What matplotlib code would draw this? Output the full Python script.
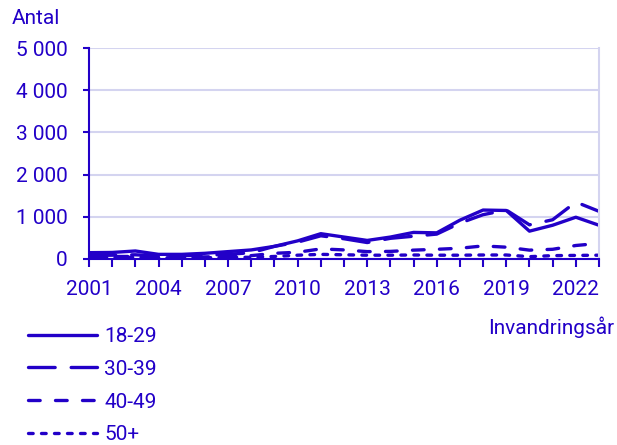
import matplotlib
matplotlib.use("Agg")
import matplotlib.pyplot as plt
import numpy as np

plt.rcParams['font.family'] = ['Roboto', 'DejaVu Sans']

years = list(range(2001, 2024))
age_18_29 = [150, 155, 190, 110, 110, 135, 175, 215, 300, 430, 600, 520, 440, 520, 630, 620, 920, 1160, 1150, 660, 800, 990, 800]
age_30_39 = [80, 90, 100, 70, 80, 90, 110, 150, 300, 400, 550, 480, 390, 490, 540, 590, 850, 1050, 1160, 810, 930, 1350, 1130]
age_40_49 = [50, 60, 60, 40, 50, 50, 60, 80, 135, 160, 240, 215, 175, 180, 210, 230, 255, 310, 280, 210, 230, 320, 370]
age_50p = [30, 40, 40, 30, 30, 30, 40, 40, 60, 90, 110, 100, 90, 90, 95, 90, 90, 95, 95, 55, 80, 85, 90]
labels = ['18-29', '30-39', '40-49', '50+']
yticks = [0, 1000, 2000, 3000, 4000, 5000]
ytick_labels = ['0', '1 000', '2 000', '3 000', '4 000', '5 000']

col = '#2200c8'
grid_col = '#d4d4f0'
fs = 15

W, H = 617, 445
fig = plt.figure(figsize=(W / 100, H / 100), dpi=100)
ax = fig.add_axes([89 / W, 1 - 259 / H, (599 - 89) / W, (259 - 48) / H])

lw = 2.4
styles = [
    dict(linestyle='-'),
    dict(linestyle=(0, (8, 4.8))),
    dict(linestyle=(0, (3.5, 4.6))),
    dict(linestyle=(0, (1.4, 2.5))),
]
for vals, lab, st in zip([age_18_29, age_30_39, age_40_49, age_50p], labels, styles):
    ax.plot(years, vals, color=col, lw=lw, label=lab, solid_capstyle='round',
            dash_capstyle='round', **st)

ax.set_xlim(2001, 2023)
ax.set_ylim(0, 5000)
ax.set_yticks(yticks)
ax.set_yticklabels(ytick_labels)
ax.set_xticks(years)
ax.set_xticklabels([str(y) if (y - 2001) % 3 == 0 else '' for y in years])
ax.grid(axis='y', color=grid_col, lw=1.5)
ax.set_axisbelow(True)

ax.spines['top'].set_visible(False)
ax.spines['right'].set_color(grid_col)
ax.spines['right'].set_linewidth(1.5)
ax.spines['left'].set_color(col)
ax.spines['left'].set_linewidth(1.5)
ax.spines['bottom'].set_color(col)
ax.spines['bottom'].set_linewidth(1.5)

ax.tick_params(axis='y', colors=col, labelsize=fs, length=4.3, width=1.5, pad=11)
ax.tick_params(axis='x', colors=col, labelsize=fs, length=5.8, width=1.5, pad=9)
for t in ax.get_yticklabels() + ax.get_xticklabels():
    t.set_color(col)

fig.text(12 / W, 1 - 19 / H, 'Antal', color=col, fontsize=fs, va='center', ha='left')
fig.text(614 / W, 1 - 327 / H, 'Invandringsår', color=col, fontsize=fs, va='center', ha='right')

leg = fig.legend(loc='upper left', bbox_to_anchor=(28 / W, 1 - 327 / H), frameon=False,
                 fontsize=fs, handlelength=50 / fs, handletextpad=5 / fs, labelspacing=0.66,
                 borderpad=0, borderaxespad=0)
for t in leg.get_texts():
    t.set_color(col)

fig.savefig('out.png', dpi=100)
